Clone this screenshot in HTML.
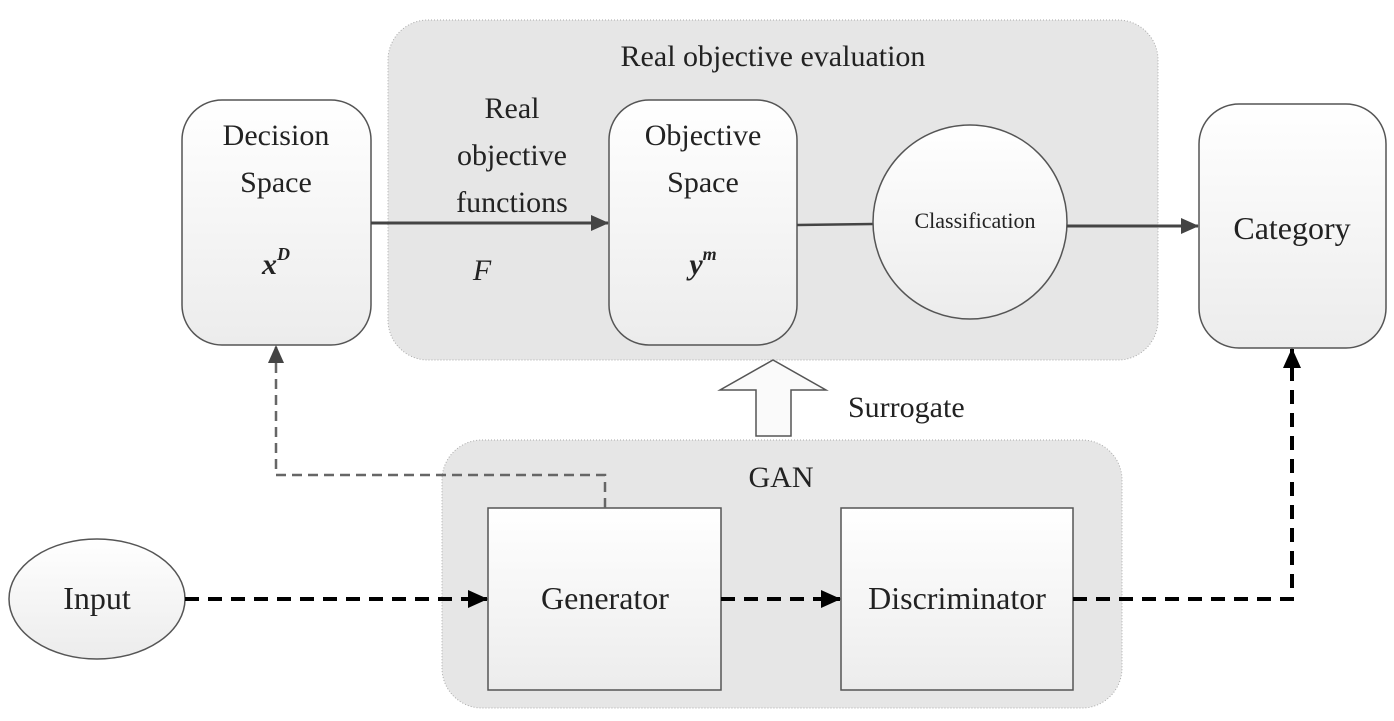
<!DOCTYPE html>
<html><head><meta charset="utf-8"><style>html,body{margin:0;padding:0;background:#fff}svg{display:block}</style></head>
<body>
<svg width="1394" height="721" viewBox="0 0 1394 721" xmlns="http://www.w3.org/2000/svg" font-family="'Liberation Serif', serif" fill="#222">
<defs>
<linearGradient id="g" x1="0" y1="0" x2="0" y2="1"><stop offset="0" stop-color="#fff"/><stop offset="1" stop-color="#ececec"/></linearGradient>
<marker id="ah" markerWidth="18" markerHeight="16" refX="17" refY="8" orient="auto" markerUnits="userSpaceOnUse" viewBox="0 0 18 16"><path d="M0,0 L18,8 L0,16 z" fill="#444"/></marker>
<marker id="ab" markerWidth="20" markerHeight="18" refX="19" refY="9" orient="auto" markerUnits="userSpaceOnUse" viewBox="0 0 20 18"><path d="M0,0 L20,9 L0,18 z" fill="#000"/></marker>
</defs>
<rect x="388" y="20" width="770" height="340" rx="40" fill="#e6e6e6" stroke="#aaa" stroke-dasharray="1 2"/>
<rect x="442" y="440" width="680" height="268" rx="40" fill="#e6e6e6" stroke="#aaa" stroke-dasharray="1 2"/>
<text x="773" y="66" font-size="30" text-anchor="middle">Real objective evaluation</text>
<text x="781" y="487" font-size="30" text-anchor="middle">GAN</text>
<rect x="182" y="100" width="189" height="245" rx="40" fill="url(#g)" stroke="#555" stroke-width="1.5"/>
<text x="276" y="145" font-size="30" text-anchor="middle">Decision</text>
<text x="276" y="192" font-size="30" text-anchor="middle">Space</text>
<text x="276" y="274" font-size="30" text-anchor="middle" font-style="italic" font-weight="600">x<tspan font-size="18" dy="-14">D</tspan></text>
<rect x="609" y="100" width="188" height="245" rx="40" fill="url(#g)" stroke="#555" stroke-width="1.5"/>
<text x="703" y="145" font-size="30" text-anchor="middle">Objective</text>
<text x="703" y="192" font-size="30" text-anchor="middle">Space</text>
<text x="703" y="274" font-size="30" text-anchor="middle" font-style="italic" font-weight="600">y<tspan font-size="18" dy="-14">m</tspan></text>
<text x="512" y="118" font-size="30" text-anchor="middle">Real</text>
<text x="512" y="165" font-size="30" text-anchor="middle">objective</text>
<text x="512" y="212" font-size="30" text-anchor="middle">functions</text>
<text x="482" y="280" font-size="30" text-anchor="middle" font-style="italic">F</text>
<line x1="371" y1="223" x2="608" y2="223" stroke="#444" stroke-width="3" marker-end="url(#ah)"/>
<line x1="797" y1="225" x2="873" y2="224" stroke="#444" stroke-width="2.5"/>
<circle cx="970" cy="222" r="97" fill="url(#g)" stroke="#555" stroke-width="1.5"/>
<text x="975" y="228" font-size="22" text-anchor="middle">Classification</text>
<line x1="1067" y1="226" x2="1198" y2="226" stroke="#444" stroke-width="3" marker-end="url(#ah)"/>
<rect x="1199" y="104" width="187" height="244" rx="40" fill="url(#g)" stroke="#555" stroke-width="1.5"/>
<text x="1292" y="239" font-size="32" text-anchor="middle">Category</text>
<path d="M756,436 L756,390 L720,390 L773,360 L826,390 L791,390 L791,436 z" fill="#fafafa" stroke="#555" stroke-width="1.5"/>
<text x="848" y="417" font-size="30">Surrogate</text>
<rect x="488" y="508" width="233" height="182" fill="url(#g)" stroke="#555" stroke-width="1.5"/>
<text x="605" y="609" font-size="32" text-anchor="middle">Generator</text>
<rect x="841" y="508" width="232" height="182" fill="url(#g)" stroke="#555" stroke-width="1.5"/>
<text x="957" y="609" font-size="32" text-anchor="middle">Discriminator</text>
<ellipse cx="97" cy="599" rx="88" ry="60" fill="url(#g)" stroke="#555" stroke-width="1.5"/>
<text x="97" y="609" font-size="32" text-anchor="middle">Input</text>
<path d="M605,508 L605,475 L276,475 L276,346" fill="none" stroke="#666" stroke-width="2.5" stroke-dasharray="10 6" marker-end="url(#ah)"/>
<line x1="185" y1="599" x2="487" y2="599" stroke="#000" stroke-width="4" stroke-dasharray="14 9" marker-end="url(#ab)"/>
<line x1="721" y1="599" x2="840" y2="599" stroke="#000" stroke-width="4" stroke-dasharray="14 9" marker-end="url(#ab)"/>
<path d="M1073,599 L1292,599 L1292,349" fill="none" stroke="#000" stroke-width="4" stroke-dasharray="14 9" marker-end="url(#ab)"/>
</svg>
</body></html>
